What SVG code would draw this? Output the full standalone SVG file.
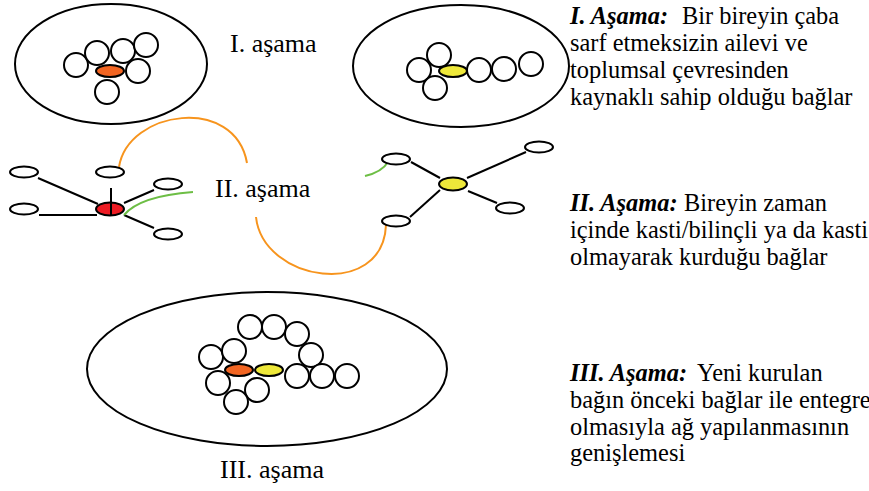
<svg xmlns="http://www.w3.org/2000/svg" width="869" height="491" viewBox="0 0 869 491">
  <style>
    .frame { fill: none; stroke: #000; stroke-width: 2; }
    .node { fill: #fff; stroke: #000; stroke-width: 2; }
    .ego-red { fill: #ED1C24; stroke: #000; stroke-width: 2; }
    .ego-orange { fill: #F26522; stroke: #000; stroke-width: 2; }
    .ego-yellow { fill: #EEE83A; stroke: #000; stroke-width: 2; }
    .tie { stroke: #000; stroke-width: 2; fill: none; }
    .bridge { stroke: #F7941D; stroke-width: 2; fill: none; }
    .weak { stroke: #6DBE45; stroke-width: 2; fill: none; }
    text { font-family: "Liberation Serif", "Times New Roman", serif; fill: #000; }
    .label { font-size: 26px; }
    .note { font-size: 24.4px; }
    .head { font-weight: bold; font-style: italic; }
  </style>

  <!-- Stage I: two inherited networks -->
  <g id="stage1-left">
    <ellipse class="frame" cx="111" cy="64" rx="96" ry="60"/>
    <circle class="node" cx="76" cy="65" r="12"/>
    <circle class="node" cx="97" cy="53" r="12"/>
    <circle class="node" cx="123" cy="51" r="12"/>
    <circle class="node" cx="146" cy="45" r="12"/>
    <circle class="node" cx="138" cy="71" r="12"/>
    <circle class="node" cx="107" cy="92" r="12"/>
    <ellipse class="ego-orange" cx="110" cy="71" rx="14" ry="6"/>
  </g>

  <g id="stage1-right">
    <ellipse class="frame" cx="461" cy="66" rx="108" ry="61"/>
    <circle class="node" cx="439" cy="55" r="12"/>
    <circle class="node" cx="419" cy="70" r="12"/>
    <circle class="node" cx="435" cy="88" r="12"/>
    <circle class="node" cx="479" cy="70" r="12"/>
    <circle class="node" cx="504" cy="69" r="12"/>
    <circle class="node" cx="531" cy="64" r="12"/>
    <ellipse class="ego-yellow" cx="453" cy="71" rx="14" ry="6"/>
  </g>

  <!-- Stage II: ties built over time -->
  <g id="connectors">
    <line class="tie" x1="38" y1="178" x2="98" y2="204"/>
    <line class="tie" x1="39" y1="215" x2="97" y2="215"/>
    <line class="tie" x1="111" y1="188" x2="111" y2="215"/>
    <line class="tie" x1="124" y1="203" x2="154" y2="190"/>
    <line class="tie" x1="124" y1="215" x2="154" y2="228"/>
    <line class="tie" x1="411" y1="162" x2="440" y2="178"/>
    <line class="tie" x1="467" y1="178" x2="526" y2="152"/>
    <line class="tie" x1="468" y1="191" x2="497" y2="203"/>
    <line class="tie" x1="440" y1="190" x2="410" y2="217"/>
    <path class="bridge" d="M119,167 C128,110 235,95 247,163"/>
    <path class="bridge" d="M256,217 C263,282 383,300 386,225"/>
    <path class="weak" d="M124,215 Q140,196 193,192"/>
    <path class="weak" d="M365,176 Q382,172 388,162"/>
  </g>

  <g id="stage2-left">
    <ellipse class="node" cx="24" cy="172" rx="14" ry="5.5"/>
    <ellipse class="node" cx="24" cy="209" rx="14" ry="5.5"/>
    <ellipse class="node" cx="110" cy="172" rx="14" ry="5.5"/>
    <ellipse class="node" cx="168" cy="184" rx="14" ry="5.5"/>
    <ellipse class="node" cx="168" cy="234" rx="14" ry="5.5"/>
    <ellipse class="ego-red" cx="110" cy="209" rx="14" ry="6.5"/>
    <line class="tie" x1="111" y1="203" x2="111" y2="215"/>
  </g>

  <g id="stage2-right">
    <ellipse class="node" cx="396" cy="159" rx="14" ry="5.5"/>
    <ellipse class="node" cx="539" cy="147" rx="14" ry="5.5"/>
    <ellipse class="node" cx="510" cy="208" rx="14" ry="5.5"/>
    <ellipse class="node" cx="396" cy="221" rx="14" ry="5.5"/>
    <ellipse class="ego-yellow" cx="453" cy="184" rx="14" ry="6.5"/>
  </g>

  <!-- Stage III: merged network -->
  <g id="stage3">
    <ellipse class="frame" cx="267" cy="369" rx="180" ry="77"/>
    <circle class="node" cx="250" cy="327" r="12"/>
    <circle class="node" cx="274" cy="327" r="12"/>
    <circle class="node" cx="297" cy="334" r="12"/>
    <circle class="node" cx="311" cy="355" r="12"/>
    <circle class="node" cx="211" cy="357" r="12"/>
    <circle class="node" cx="234" cy="351" r="12"/>
    <circle class="node" cx="297" cy="376" r="12"/>
    <circle class="node" cx="322" cy="376" r="12"/>
    <circle class="node" cx="347" cy="376" r="12"/>
    <circle class="node" cx="218" cy="383" r="12"/>
    <circle class="node" cx="257" cy="390" r="12"/>
    <circle class="node" cx="236" cy="402" r="12"/>
    <ellipse class="ego-orange" cx="239" cy="370" rx="14" ry="6"/>
    <ellipse class="ego-yellow" cx="269" cy="370" rx="14" ry="6"/>
  </g>

  <!-- Stage labels -->
  <g id="labels">
    <text class="label" x="230" y="52">I. aşama</text>
    <text class="label" x="215" y="197">II. aşama</text>
    <text class="label" x="220" y="478">III. aşama</text>
  </g>

  <!-- Stage descriptions -->
  <g id="note1">
    <text class="note" x="570" y="24"><tspan class="head">I. Aşama:</tspan><tspan x="682">Bir bireyin çaba</tspan></text>
    <text class="note" x="570" y="51">sarf etmeksizin ailevi ve</text>
    <text class="note" x="570" y="78">toplumsal çevresinden</text>
    <text class="note" x="570" y="105">kaynaklı sahip olduğu bağlar</text>
  </g>
  <g id="note2">
    <text class="note" x="570" y="211"><tspan class="head">II. Aşama:</tspan><tspan x="684">Bireyin zaman</tspan></text>
    <text class="note" x="570" y="238">içinde kasti/bilinçli ya da kasti</text>
    <text class="note" x="570" y="265">olmayarak kurduğu bağlar</text>
  </g>
  <g id="note3">
    <text class="note" x="570" y="381"><tspan class="head">III. Aşama:</tspan><tspan x="697">Yeni kurulan</tspan></text>
    <text class="note" x="570" y="408">bağın önceki bağlar ile entegre</text>
    <text class="note" x="570" y="435">olmasıyla ağ yapılanmasının</text>
    <text class="note" x="570" y="461">genişlemesi</text>
  </g>
</svg>
